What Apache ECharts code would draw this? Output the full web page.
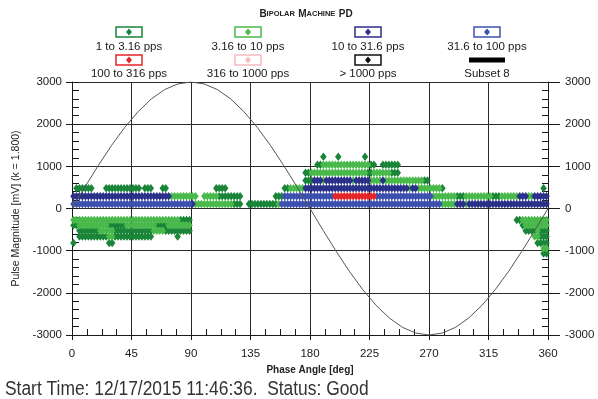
<!DOCTYPE html>
<html>
<head>
<meta charset="utf-8">
<script src="https://cdn.jsdelivr.net/npm/echarts@6/dist/echarts.min.js"></script>
<style>
  html, body { margin: 0; padding: 0; background: #fff; }
  #chart { width: 598px; height: 399px; }
</style>
</head>
<body>
<div id="chart"></div>
<script>
// Phase-resolved PD pattern: pulse counts binned by phase and magnitude,
// coloured by repetition-rate class. Each run is [magnitude mV, from deg, to deg].
const PHASE_STEP = 2.25;

const pps1to3 = [
  [105, 122, 128], [105, 132, 155],
  [290, 110, 128], [290, 153, 160], [290, 290, 296], [290, 318, 324],
  [480, 2, 16], [480, 24, 51], [480, 53, 60], [480, 68, 72], [480, 107, 118],
  [480, 160, 165], [480, 278, 282], [480, 355, 357],
  [665, 175, 182], [665, 266, 269],
  [850, 175, 181], [850, 222, 228], [850, 240, 248],
  [1040, 185, 189], [1040, 226, 229], [1040, 235, 248],
  [1230, 190, 192], [1230, 201, 203], [1230, 220, 222],
  [-275, 82, 90], [-275, 336, 339],
  [-400, 0, 4], [-400, 28, 40], [-400, 62, 72], [-400, 339, 342],
  [-525, 4, 20], [-525, 32, 60], [-525, 70, 89], [-525, 341, 350], [-525, 354, 359],
  [-665, 4, 28], [-665, 31, 60], [-665, 79, 82], [-665, 353, 360],
  [-820, 0, 2], [-820, 27, 31], [-820, 352, 360],
  [-1065, 355, 360]
];

const pps3to10 = [
  [105, 93, 122], [105, 155, 158], [105, 278, 290], [105, 296, 299],
  [290, 74, 95], [290, 99, 110], [290, 272, 290], [290, 296, 318], [290, 324, 337], [290, 344, 349],
  [480, 165, 175], [480, 254, 257], [480, 262, 278],
  [665, 190, 192], [665, 212, 214], [665, 225, 233], [665, 237, 266],
  [850, 181, 222], [850, 228, 240],
  [1040, 189, 226],
  [-275, 0, 82], [-275, 339, 360],
  [-400, 4, 28], [-400, 40, 62], [-400, 72, 89], [-400, 342, 360],
  [-525, 20, 32], [-525, 60, 70], [-525, 350, 354],
  [-665, 28, 31], [-665, 349, 353],
  [-945, 355, 360]
];

const pps10to31 = [
  [105, 91, 93], [105, 290, 296], [105, 299, 360],
  [290, 0, 74], [290, 337, 344], [290, 349, 360],
  [480, 175, 254], [480, 257, 262],
  [665, 182, 190], [665, 192, 212], [665, 214, 225], [665, 233, 237]
];

const pps31to100 = [
  [105, 0, 91], [105, 158, 278],
  [290, 160, 197], [290, 229, 272]
];

const pps100to316 = [
  [290, 197, 229]
];

const pps316to1000 = [];
const ppsOver1000 = [];

// Subset 8: reference voltage wave, magnitude read every 10 degrees
const subset8Phase = [0, 10, 20, 30, 40, 50, 60, 70, 80, 90, 100, 110, 120, 130, 140, 150, 160, 170, 180,
  190, 200, 210, 220, 230, 240, 250, 260, 270, 280, 290, 300, 310, 320, 330, 340, 350, 360];
const subset8Magnitude = [0, 521, 1026, 1500, 1928, 2298, 2598, 2819, 2954, 3000, 2954, 2819, 2598, 2298,
  1928, 1500, 1026, 521, 0, -521, -1026, -1500, -1928, -2298, -2598, -2819, -2954, -3000, -2954, -2819,
  -2598, -2298, -1928, -1500, -1026, -521, 0];

const phaseTicks = [0, 45, 90, 135, 180, 225, 270, 315, 360];
const magnitudeTicks = [-3000, -2000, -1000, 0, 1000, 2000, 3000];

const legendNames = ['1 to 3.16 pps', '3.16 to 10 pps', '10 to 31.6 pps', '31.6 to 100 pps',
  '100 to 316 pps', '316 to 1000 pps', '> 1000 pps', 'Subset 8'];

// ---- styling ----
const COLORS = ['#1a8538', '#49b94b', '#2b3089', '#3c50ae', '#e4262b', '#f6bcbc', '#111111', '#000000'];
const FONT = "'Liberation Sans', Arial, sans-serif";

function expandRuns(runs) {
  const pts = [];
  for (const [mag, from, to] of runs) {
    const k0 = Math.round(from / PHASE_STEP);
    const k1 = Math.round(to / PHASE_STEP);
    for (let k = k0; k < k1; k++) pts.push([(k + 0.5) * PHASE_STEP, mag]);
  }
  return pts;
}

const rateSets = [pps1to3, pps3to10, pps10to31, pps31to100, pps100to316, pps316to1000, ppsOver1000];

const scatterSeries = rateSets.map((runs, i) => ({
  type: 'scatter',
  name: legendNames[i],
  xAxisIndex: 0,
  yAxisIndex: 0,
  symbol: 'diamond',
  symbolSize: [6.5, 8.5],
  itemStyle: { color: COLORS[i], opacity: 1 },
  data: expandRuns(runs),
  z: 3 + i,
  silent: true
}));

const lineSeries = {
  type: 'line',
  name: legendNames[7],
  xAxisIndex: 0,
  yAxisIndex: 0,
  showSymbol: false,
  symbol: 'none',
  lineStyle: { color: '#555555', width: 1 },
  data: subset8Phase.map((p, i) => [p, subset8Magnitude[i]]),
  z: 20,
  silent: true
};

// legend boxes built as graphics: box with marker, caption beneath
const legendX = [129, 248, 368, 487];
const legendBoxY = [32, 60];
const legendTextY = [46.5, 73.5];
const legendGraphics = [];
legendNames.forEach((name, i) => {
  const cx = legendX[i % 4];
  const row = Math.floor(i / 4);
  const by = legendBoxY[row];
  if (i < 7) {
    legendGraphics.push({
      type: 'rect', shape: { x: cx - 13, y: by - 5, width: 26, height: 10 },
      style: { fill: '#fff', stroke: COLORS[i], lineWidth: 1.5 }
    });
    legendGraphics.push({
      type: 'polygon', shape: { points: [[cx, by - 3.5], [cx + 3, by], [cx, by + 3.5], [cx - 3, by]] },
      style: { fill: COLORS[i] }
    });
  } else {
    legendGraphics.push({
      type: 'rect', shape: { x: cx - 18, y: by - 2.5, width: 36, height: 5 },
      style: { fill: '#000' }
    });
  }
  legendGraphics.push({
    type: 'text', x: cx, y: legendTextY[row],
    style: { text: name, font: '11.5px ' + FONT, fill: '#1a1a1a', align: 'center', verticalAlign: 'middle' }
  });
});

const plainNumber = v => String(v);
const axisLabelStyle = { fontSize: 11.5, color: '#1a1a1a', fontFamily: FONT, formatter: plainNumber };
const darkLine = { color: '#1a1a1a', width: 1 };

const option = {
  animation: false,
  backgroundColor: '#fff',
  grid: { left: 72, right: 50, top: 82, bottom: 64, containLabel: false },
  xAxis: [
    {
      type: 'value', min: phaseTicks[0], max: phaseTicks[phaseTicks.length - 1], interval: 45,
      position: 'bottom',
      axisLine: { show: true, onZero: false, lineStyle: darkLine },
      axisTick: { show: true, inside: true, length: 6, lineStyle: darkLine },
      minorTick: { show: true, splitNumber: 4, length: 6, lineStyle: darkLine },
      axisLabel: Object.assign({ margin: 13 }, axisLabelStyle),
      splitLine: { show: true, lineStyle: { color: '#2a2a2a', width: 1 } },
      name: 'Phase Angle [deg]', nameLocation: 'middle', nameGap: 27,
      nameTextStyle: { fontSize: 10, fontWeight: 'bold', color: '#222', fontFamily: FONT }
    },
    {
      type: 'value', min: 0, max: 360, interval: 45, position: 'bottom',
      axisLine: { show: false, onZero: false },
      axisTick: { show: true, inside: false, length: 5, lineStyle: darkLine },
      axisLabel: { show: false }, splitLine: { show: false }
    }
  ],
  yAxis: [
    {
      type: 'value', min: magnitudeTicks[0], max: magnitudeTicks[magnitudeTicks.length - 1], interval: 1000,
      position: 'left',
      axisLine: { show: true, onZero: false, lineStyle: darkLine },
      axisTick: { show: true, inside: true, length: 7, lineStyle: darkLine },
      minorTick: { show: true, splitNumber: 5, length: 7, lineStyle: darkLine },
      axisLabel: Object.assign({ margin: 10 }, axisLabelStyle),
      splitLine: { show: true, lineStyle: { color: '#2a2a2a', width: 1 } },
      name: 'Pulse Magnitude [mV] (k = 1.800)', nameLocation: 'middle', nameGap: 50,
      nameTextStyle: { fontSize: 10.5, color: '#222', fontFamily: FONT }
    },
    {
      type: 'value', min: -3000, max: 3000, interval: 1000, position: 'right',
      axisLine: { show: true, onZero: false, lineStyle: darkLine },
      axisTick: { show: true, inside: true, length: 6, lineStyle: darkLine },
      minorTick: { show: true, splitNumber: 5, length: 6, lineStyle: darkLine },
      axisLabel: Object.assign({ margin: 17 }, axisLabelStyle),
      splitLine: { show: false }
    },
    {
      type: 'value', min: -3000, max: 3000, interval: 1000, position: 'left',
      axisLine: { show: false, onZero: false },
      axisTick: { show: true, inside: false, length: 6, lineStyle: darkLine },
      axisLabel: { show: false }, splitLine: { show: false }
    },
    {
      type: 'value', min: -3000, max: 3000, interval: 1000, position: 'right',
      axisLine: { show: false, onZero: false },
      axisTick: { show: true, inside: false, length: 12, lineStyle: darkLine },
      axisLabel: { show: false }, splitLine: { show: false }
    }
  ],
  series: scatterSeries.concat([lineSeries]),
  graphic: [
    {
      type: 'text', x: 306, y: 14,
      style: {
        text: '{a|B}{b|IPOLAR} {a|M}{b|ACHINE} {a|PD}',
        align: 'center', verticalAlign: 'middle',
        rich: {
          a: { font: 'bold 10px ' + FONT, fill: '#222' },
          b: { font: 'bold 7.5px ' + FONT, fill: '#222' }
        }
      }
    },
    {
      type: 'text', x: 5, y: 389, scaleX: 0.87,
      style: { text: 'Start Time: 12/17/2015 11:46:36.  Status: Good', font: '20px ' + FONT, fill: '#333', verticalAlign: 'middle' }
    }
  ].concat(legendGraphics)
};

const chart = echarts.init(document.getElementById('chart'), null, { renderer: 'canvas' });
chart.setOption(option);
</script>
</body>
</html>
